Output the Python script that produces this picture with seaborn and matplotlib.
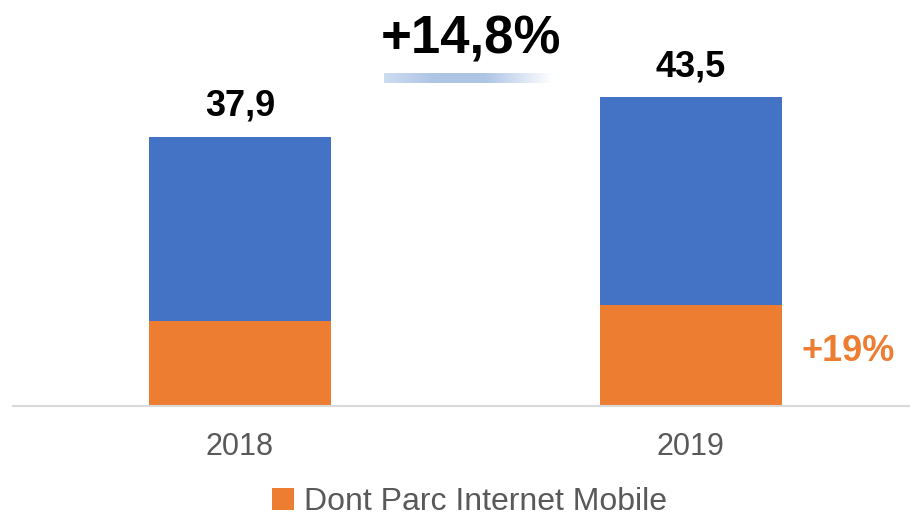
import numpy as np
import pandas as pd
import matplotlib
matplotlib.use("Agg")
import matplotlib.pyplot as plt
import seaborn as sns
from matplotlib.patches import Patch

years = ["2018", "2019"]
totals = [37.9, 43.5]
mobile = [12.0, 14.3]
total_labels = ["37,9", "43,5"]
growth_total = "+14,8%"
growth_mobile = "+19%"
legend_label = "Dont Parc Internet Mobile"

BLUE = "#4472C4"
ORANGE = "#ED7D31"
GRAY = "#595959"

sns.set_theme(style="white")
plt.rcParams['font.family'] = ['Liberation Sans', 'DejaVu Sans']

df = pd.DataFrame({"year": years, "total": totals, "mobile": mobile})

fig = plt.figure(figsize=(9.1, 5.16), dpi=100)
ax = fig.add_axes([13/910, 110/516, 1 - 13/910, 406/516])

sns.barplot(data=df, x="year", y="total", color=BLUE, width=0.404, ax=ax,
            saturation=1, linewidth=0)
sns.barplot(data=df, x="year", y="mobile", color=ORANGE, width=0.404, ax=ax,
            saturation=1, linewidth=0)

ax.set_xlim(-0.503, 1.486)
ax.set_ylim(0, 57.2)
ax.set_xlabel("")
ax.set_ylabel("")
ax.set_yticks([])
for s in ["top", "right", "left"]:
    ax.spines[s].set_visible(False)
ax.spines["bottom"].set_color("#d9d9d9")
ax.spines["bottom"].set_linewidth(1.5)
ax.tick_params(axis="x", length=0, pad=19, labelsize=22, labelcolor=GRAY)

for i, (t, lab) in enumerate(zip(totals, total_labels)):
    ax.annotate(lab, (i, t), xytext=(0, 22), textcoords="offset points",
                ha="center", va="center", fontsize=26, fontweight="bold", color="black")

ax.annotate(growth_mobile, (1, mobile[1]), xytext=(113, -34), textcoords="offset points",
            ha="center", va="center", fontsize=26, fontweight="bold", color=ORANGE)

fig.text(471/910, 1 - 39/516, growth_total, ha="center", va="center",
         fontsize=38, fontweight="bold", color="black")

# gradient underline
gax = fig.add_axes([384/910, 1 - 83/516, (552 - 384)/910, 10/516])
xs = np.linspace(0, 1, 256)
alpha = np.interp(xs, [0, 0.3, 0.6, 1.0], [0.6, 1.0, 1.0, 0.0])
base = np.array([0.68, 0.77, 0.90])
rgb = 1 - alpha[:, None] * (1 - base[None, :])
gax.imshow(rgb[None, :, :], aspect="auto", extent=[0, 1, 0, 1])
gax.axis("off")

fig.legend(handles=[Patch(facecolor=ORANGE, edgecolor="none", label=legend_label)],
           loc="center", bbox_to_anchor=(0.516, 1 - 502/516), frameon=False,
           fontsize=23, labelcolor=GRAY, handlelength=0.7, handleheight=0.7,
           handletextpad=0.3, borderpad=0)

fig.savefig("out.png", dpi=100)
